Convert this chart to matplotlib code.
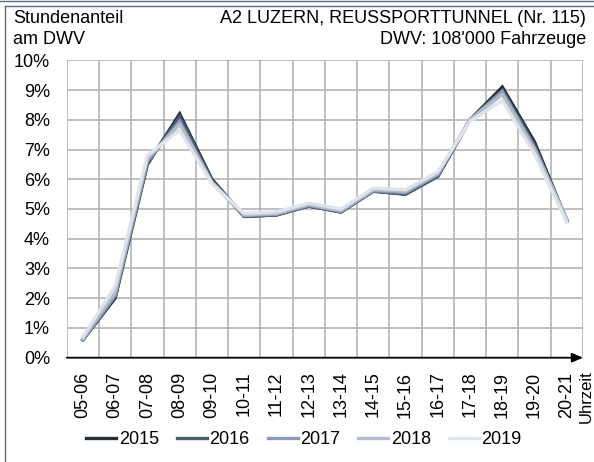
import matplotlib
matplotlib.use("Agg")
import matplotlib.pyplot as plt
from matplotlib.lines import Line2D
import numpy as np

plt.rcParams['font.family'] = ['Liberation Sans', 'DejaVu Sans']

hours = ["05-06", "06-07", "07-08", "08-09", "09-10", "10-11", "11-12", "12-13",
         "13-14", "14-15", "15-16", "16-17", "17-18", "18-19", "19-20", "20-21"]
years = ["2015", "2016", "2017", "2018", "2019"]
v2015 = [0.6, 2.0, 6.5, 8.2, 6.0, 4.75, 4.8, 5.1, 4.9, 5.6, 5.5, 6.1, 8.0, 9.1, 7.25, 4.6]
v2016 = [0.6, 2.05, 6.55, 8.1, 5.95, 4.75, 4.8, 5.1, 4.9, 5.6, 5.5, 6.1, 8.0, 9.0, 7.15, 4.6]
v2017 = [0.6, 2.1, 6.6, 7.95, 5.9, 4.78, 4.82, 5.12, 4.92, 5.62, 5.55, 6.15, 8.0, 8.95, 7.05, 4.65]
v2018 = [0.65, 2.2, 6.7, 7.85, 5.9, 4.8, 4.85, 5.15, 4.95, 5.65, 5.6, 6.2, 8.0, 8.85, 7.0, 4.65]
v2019 = [0.7, 2.4, 6.8, 7.65, 5.85, 4.85, 4.9, 5.2, 5.0, 5.7, 5.65, 6.25, 7.95, 8.65, 6.85, 4.55]
series = [v2015, v2016, v2017, v2018, v2019]
colors = ["#262e3a", "#4a5a70", "#8a9bb3", "#b3bccb", "#dfe4ec"]

FS = 13
FH = 13
W, H = 594, 462
fig = plt.figure(figsize=(W / 100, H / 100), dpi=100)
ax = fig.add_axes([66.7 / W, 1 - 357.7 / H, (583 - 66.7) / W, (357.7 - 60.3) / H])

x = np.arange(len(hours))
for vals, c, yr in zip(series, colors, years):
    ax.plot(x, vals, color=c, lw=2.4, label=yr, solid_joinstyle='miter', zorder=3)

ax.set_xlim(-0.5, len(hours) - 0.5)
ax.set_ylim(0, 10)
ax.set_yticks(np.arange(0, 11, 1))
ax.set_yticklabels([f"{i}%" for i in range(11)], fontsize=FS)
ax.set_xticks(x)
ax.set_xticklabels(hours, rotation=90, fontsize=FS)
ax.tick_params(axis='both', length=0)
ax.tick_params(axis='y', pad=12)
ax.tick_params(axis='x', pad=10)

for v in np.arange(-0.5, len(hours), 1.0):
    ax.axvline(v, color="#b4b4b4", lw=1.2, zorder=1)
for h in range(1, 11):
    ax.axhline(h, color="#b4b4b4", lw=1.2, zorder=1)
for s in ax.spines.values():
    s.set_visible(False)
ax.annotate("", xy=(1.0, 0), xycoords='axes fraction', xytext=(0, 0),
            arrowprops=dict(arrowstyle='-|>,head_length=0.65,head_width=0.28',
                            color='black', lw=1.3, shrinkA=0, shrinkB=0), zorder=4)

# header texts
fig.text(13 / W, 1 - 23 / H, "Stundenanteil", fontsize=FH, va='baseline', ha='left')
fig.text(13 / W, 1 - 44 / H, "am DWV", fontsize=FH, va='baseline', ha='left')
fig.text(586 / W, 1 - 23 / H, "A2 LUZERN, REUSSPORTTUNNEL (Nr. 115)", fontsize=FH,
         va='baseline', ha='right')
fig.text(586 / W, 1 - 44 / H, "DWV: 108'000 Fahrzeuge", fontsize=FH,
         va='baseline', ha='right')
fig.text(593.5 / W, 1 - 370 / H, "Uhrzeit", fontsize=12, rotation=90, va='top', ha='right')

# frame lines
fc = "#5a6e8c"
fig.add_artist(Line2D([0, 1], [1 - 1 / H, 1 - 1 / H], color=fc, lw=1.0))
fig.add_artist(Line2D([4.5 / W, 1], [1 - 5.5 / H, 1 - 5.5 / H], color=fc, lw=1.0))
fig.add_artist(Line2D([4.5 / W, 4.5 / W], [0, 1 - 5.5 / H], color=fc, lw=1.0))

fig.legend(loc='center', bbox_to_anchor=(304 / W, 1 - 440 / H), ncol=5, frameon=False,
           fontsize=FS, handlelength=1.65, handletextpad=0.15, columnspacing=1.0,
           borderpad=0.2)

fig.savefig("out.png", dpi=100)
